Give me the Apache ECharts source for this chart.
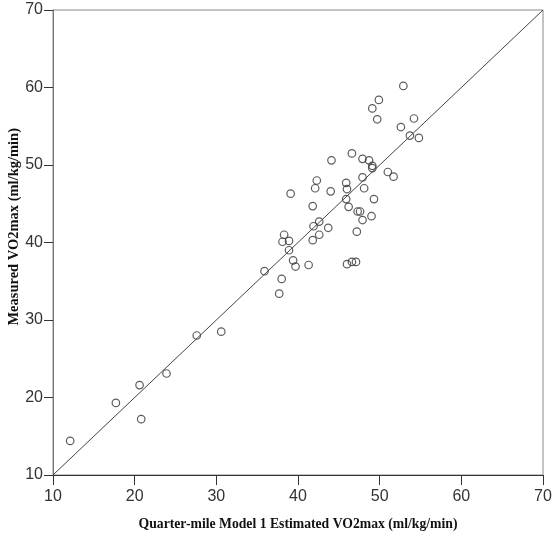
<!DOCTYPE html>
<html>
<head>
<meta charset="utf-8">
<script src="https://cdn.jsdelivr.net/npm/echarts@6/dist/echarts.min.js"></script>
<style>
  html, body { margin: 0; padding: 0; background: #fff; }
  #chart { width: 553px; height: 541px; }
</style>
</head>
<body>
<div id="chart"></div>
<script>
// estimated VO2max (x) and measured VO2max (y)
const estimated = [
  12.1, 17.7, 20.6, 20.8, 23.9, 27.6, 30.6, 35.9, 37.7, 38.0,
  38.1, 38.3, 38.9, 38.9, 39.4, 39.7, 39.1, 41.3, 41.8, 41.8,
  41.9, 42.1, 42.3, 42.6, 42.6, 43.7, 44.0, 44.1, 45.9, 45.9,
  46.0, 46.0, 46.2, 46.6, 46.6, 47.1, 47.2, 47.3, 47.6, 47.9,
  47.9, 47.9, 48.1, 48.7, 49.0, 49.1, 49.1, 49.1, 49.3, 49.7,
  49.9, 51.0, 51.7, 52.6, 52.9, 53.7, 54.2, 54.8
]
const measured = [
  14.4, 19.3, 21.6, 17.2, 23.1, 28.0, 28.5, 36.3, 33.4, 35.3,
  40.1, 41.0, 40.2, 39.0, 37.7, 36.9, 46.3, 37.1, 44.7, 40.3,
  42.1, 47.0, 48.0, 41.0, 42.7, 41.9, 46.6, 50.6, 45.6, 47.7,
  46.9, 37.2, 44.6, 37.5, 51.5, 37.5, 41.4, 44.0, 44.0, 50.8,
  48.4, 42.9, 47.0, 50.6, 43.4, 49.9, 49.6, 57.3, 45.6, 55.9,
  58.4, 49.1, 48.5, 54.9, 60.2, 53.8, 56.0, 53.5
]
const axisTicks = [10, 20, 30, 40, 50, 60, 70]

const points = estimated.map((x, i) => [x, measured[i]])
const lo = axisTicks[0]
const hi = axisTicks[axisTicks.length - 1]
const lineEnds = [[lo, lo], [hi, hi]]

const chart = echarts.init(document.getElementById('chart'))

const labelStyle = {
  color: '#333',
  fontFamily: 'Liberation Sans Narrow, Liberation Sans, sans-serif',
  fontSize: 16
}

chart.setOption({
  animation: false,
  grid: {
    left: 53,
    right: 10,
    top: 10,
    bottom: 66,
    outerBoundsMode: 'none',
    show: true,
    borderColor: '#888',
    borderWidth: 1
  },
  graphic: [
    {
      type: 'text',
      left: 7,
      top: 128,
      rotation: Math.PI / 2,
      style: {
        text: 'Measured VO2max (ml/kg/min)',
        fill: '#111',
        font: 'bold 14.5px "Liberation Serif", serif'
      }
    }
  ],
  xAxis: {
    type: 'value',
    min: lo,
    max: hi,
    interval: 10,
    name: 'Quarter-mile Model 1 Estimated VO2max (ml/kg/min)',
    nameLocation: 'middle',
    nameGap: 42,
    nameTextStyle: {
      color: '#111',
      fontFamily: 'Liberation Serif, serif',
      fontWeight: 'bold',
      fontSize: 13.7
    },
    axisLine: { lineStyle: { color: '#333', width: 1 } },
    axisTick: { show: true, length: 10, lineStyle: { color: '#333' } },
    axisLabel: Object.assign({ margin: 14 }, labelStyle),
    splitLine: { show: false }
  },
  yAxis: {
    type: 'value',
    min: lo,
    max: hi,
    interval: 10,
    axisLine: { show: true, lineStyle: { color: '#777', width: 1 } },
    axisTick: { show: true, length: 9, lineStyle: { color: '#333' } },
    axisLabel: Object.assign({ margin: 10 }, labelStyle),
    splitLine: { show: false }
  },
  series: [
    {
      type: 'line',
      data: lineEnds,
      symbol: 'none',
      lineStyle: { color: '#444', width: 1 },
      silent: true
    },
    {
      type: 'scatter',
      data: points,
      symbol: 'circle',
      symbolSize: 7.5,
      itemStyle: {
        color: 'rgba(255,255,255,0)',
        borderColor: '#333',
        borderWidth: 1.2
      }
    }
  ]
})
</script>
</body>
</html>
